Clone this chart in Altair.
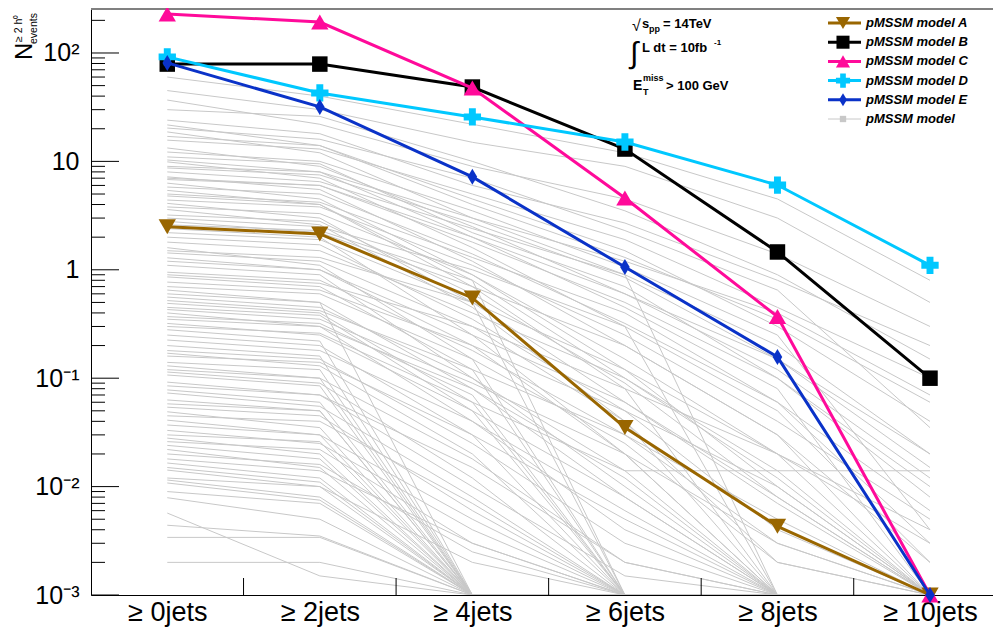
import altair as alt
import pandas as pd

# ---------------- data ----------------
categories = ["≥ 0jets", "≥ 2jets", "≥ 4jets", "≥ 6jets", "≥ 8jets", "≥ 10jets"]

model_labels = ["pMSSM model A", "pMSSM model B", "pMSSM model C",
                "pMSSM model D", "pMSSM model E"]
model_a = [2.5, 2.14, 0.55, 0.035, 0.0043, 0.001]
model_b = [79, 79, 48.5, 13, 1.46, 0.1]
model_c = [229, 193, 47.5, 4.6, 0.37, 0.001]
model_d = [92, 42.8, 25.7, 15.1, 6.05, 1.1]
model_e = [81, 31.8, 7.2, 1.06, 0.157, 0.001]

# background pMSSM models (one entry per model in each jet bin; 0.001 = axis floor)
grey_0jets = [60, 45, 36.8, 24, 21.7, 20.3, 18.7, 15.7, 13.3, 12.2,
              10.3, 9.9, 8.7, 7.2, 7.0, 6.3, 5.8, 5.4, 4.4, 4.1,
              3.8, 3.6, 2.0, 1.8, 1.6, 1.43, 1.29, 0.95, 0.86, 0.77,
              0.65, 0.56, 0.49, 0.43, 0.40, 0.37, 0.32, 0.30, 0.25, 0.225,
              0.20, 0.18, 0.17, 0.14, 0.13, 0.114, 0.107, 0.092, 0.078, 0.073,
              0.063, 0.054, 0.049, 0.041, 0.037, 0.033, 0.028, 0.026, 0.024, 0.022,
              0.020, 0.0165, 0.015, 0.0142, 0.0115, 0.0108, 0.0079, 0.0057, 0.0044, 0.0034, 0.002,
              30, 17, 11, 9.0, 6.8, 5.0, 4.8, 3.2, 2.8, 2.4,
              2.2, 1.2, 1.1, 0.9, 0.7, 0.6, 0.52, 0.45, 0.35, 0.28,
              0.16, 0.12, 0.085, 0.058, 0.045, 0.03, 0.018, 0.012, 0.009, 1.5,
              2.6, 3.0, 8.0]
grey_2jets = [40, 30, 22, 18, 14, 16, 12, 13, 9, 10,
              8, 7, 7.5, 5.5, 6, 4.5, 5, 4, 3.8, 3,
              3.3, 2.6, 1.7, 1.5, 1.1, 1.2, 1.0, 0.8, 0.7, 0.65,
              0.5, 0.45, 0.4, 0.35, 0.3, 0.32, 0.25, 0.26, 0.2, 0.18,
              0.16, 0.15, 0.13, 0.12, 0.1, 0.09, 0.085, 0.07, 0.06, 0.055,
              0.05, 0.045, 0.035, 0.03, 0.03, 0.025, 0.02, 0.022, 0.018, 0.015,
              0.016, 0.012, 0.011, 0.01, 0.008, 0.0075, 0.005, 0.0015, 0.0035, 0.0034, 0.002,
              26, 14, 9.5, 8, 6, 4.2, 4, 2.8, 2.2, 2.0,
              1.9, 1.0, 0.9, 0.75, 0.6, 0.5, 0.42, 0.38, 0.3, 0.22,
              0.14, 0.1, 0.07, 0.05, 0.04, 0.026, 0.014, 0.01, 0.007, 1.3,
              2.3, 2.5, 6.5]
grey_4jets = [22, 15, 9, 6, 4, 7, 3, 5, 2.5, 3.5,
              2, 1.6, 2.7, 1.2, 1.8, 0.9, 1.4, 0.7, 1.1, 0.5,
              0.9, 0.45, 0.35, 0.4, 0.15, 0.3, 0.2, 0.18, 0.12, 0.2,
              0.08, 0.1, 0.06, 0.09, 0.04, 0.07, 0.05, 0.06, 0.03, 0.04,
              0.001, 0.025, 0.02, 0.001, 0.018, 0.012, 0.001, 0.01, 0.001, 0.008,
              0.001, 0.006, 0.001, 0.005, 0.001, 0.004, 0.001, 0.003, 0.001, 0.001,
              0.0025, 0.001, 0.001, 0.002, 0.001, 0.001, 0.001, 0.001, 0.001, 0.001, 0.001,
              10, 4.5, 2.2, 3, 2, 1.3, 0.8, 0.6, 0.7, 0.25,
              0.5, 0.25, 0.1, 0.3, 0.15, 0.001, 0.12, 0.05, 0.08, 0.001,
              0.03, 0.001, 0.015, 0.001, 0.007, 0.001, 0.003, 0.001, 0.001, 0.5,
              0.8, 1.0, 2.4]
grey_6jets = [12, 9, 4.5, 2.7, 1.3, 2.3, 0.9, 1.9, 0.6, 1.06,
              0.45, 0.3, 0.85, 0.2, 0.5, 0.12, 0.32, 0.08, 0.25, 0.06,
              0.15, 0.04, 0.05, 0.1, 0.001, 0.04, 0.02, 0.03, 0.001, 0.05,
              0.008, 0.014, 0.001, 0.02, 0.004, 0.001, 0.008, 0.014, 0.001, 0.006,
              0.001, 0.003, 0.001, 0.001, 0.002, 0.001, 0.001, 0.0015, 0.001, 0.001,
              0.001, 0.001, 0.001, 0.001, 0.001, 0.001, 0.001, 0.001, 0.001, 0.001,
              0.001, 0.001, 0.001, 0.001, 0.001, 0.001, 0.001, 0.001, 0.001, 0.001, 0.001,
              3.5, 1.5, 0.7, 1.2, 0.6, 0.4, 0.1, 0.09, 0.2, 0.02,
              0.12, 0.06, 0.01, 0.08, 0.025, 0.001, 0.03, 0.001, 0.012, 0.001,
              0.005, 0.001, 0.002, 0.001, 0.001, 0.001, 0.001, 0.001, 0.001, 0.001,
              0.001, 0.3, 0.9]
grey_8jets = [4.5, 3, 1.4, 0.8, 0.35, 0.65, 0.2, 0.45, 0.12, 0.25,
              0.08, 0.05, 0.15, 0.03, 0.1, 0.01, 0.06, 0.001, 0.04, 0.007,
              0.02, 0.001, 0.004, 0.014, 0.001, 0.002, 0.001, 0.003, 0.001, 0.01,
              0.001, 0.001, 0.001, 0.003, 0.001, 0.001, 0.001, 0.014, 0.001, 0.001,
              0.001, 0.001, 0.001, 0.001, 0.001, 0.001, 0.001, 0.001, 0.001, 0.001,
              0.001, 0.001, 0.001, 0.001, 0.001, 0.001, 0.001, 0.001, 0.001, 0.001,
              0.001, 0.001, 0.001, 0.001, 0.001, 0.001, 0.001, 0.001, 0.001, 0.001, 0.001,
              0.9, 0.3, 0.1, 0.4, 0.15, 0.06, 0.012, 0.008, 0.03, 0.001,
              0.02, 0.008, 0.001, 0.02, 0.002, 0.001, 0.005, 0.001, 0.001, 0.001,
              0.001, 0.001, 0.001, 0.001, 0.001, 0.001, 0.001, 0.001, 0.001, 0.001,
              0.001, 0.001, 0.001]
grey_10jets = [0.8, 0.5, 0.3, 0.2, 0.06, 0.035, 0.02, 0.1, 0.012, 0.004,
               0.001, 0.002, 0.02, 0.001, 0.008, 0.001, 0.003, 0.001, 0.005, 0.001,
               0.001, 0.001, 0.001, 0.001, 0.001, 0.001, 0.001, 0.001, 0.001, 0.001,
               0.001, 0.001, 0.001, 0.001, 0.001, 0.001, 0.001, 0.014, 0.001, 0.001,
               0.001, 0.001, 0.001, 0.001, 0.001, 0.001, 0.001, 0.001, 0.001, 0.001,
               0.001, 0.001, 0.001, 0.001, 0.001, 0.001, 0.001, 0.001, 0.001, 0.001,
               0.001, 0.001, 0.001, 0.001, 0.001, 0.001, 0.001, 0.001, 0.001, 0.001, 0.001,
               0.15, 0.04, 0.01, 0.07, 0.015, 0.006, 0.001, 0.001, 0.002, 0.001,
               0.003, 0.001, 0.001, 0.004, 0.001, 0.001, 0.001, 0.001, 0.001, 0.001,
               0.001, 0.001, 0.001, 0.001, 0.001, 0.001, 0.001, 0.001, 0.001, 0.001,
               0.001, 0.001, 0.001]

y_major_ticks = [0.001, 0.01, 0.1, 1, 10, 100]
y_tick_labels = ["10⁻³", "10⁻²", "10⁻¹", "1", "10", "10²"]
minor_factors = [2, 3, 4, 5, 6, 7, 8, 9]
bin_edges = [0.5, 1.5, 2.5, 3.5, 4.5]

# ---------------- styling ----------------
FONT = "Liberation Sans"
W, H = 902, 587
X_DOMAIN = [-0.5, 5.413]
Y_DOMAIN = [0.001, 260]
GREY = "#c8c8c8"
model_colors = ["#996600", "#000000", "#ff0a9a", "#00c8ff", "#0a32c8"]
DIAMOND = "M0,-1L0.6,0L0,1L-0.6,0Z"
model_shapes = ["triangle-down", "square", "triangle-up", "cross", DIAMOND]
model_sizes = [300, 240, 300, 300, 256]

xscale = alt.Scale(domain=X_DOMAIN, nice=False, zero=False)
yscale = alt.Scale(type="log", domain=Y_DOMAIN, nice=False)

# ---------------- background lines ----------------
grey_cols = [grey_0jets, grey_2jets, grey_4jets, grey_6jets, grey_8jets, grey_10jets]
n_grey = min(len(c) for c in grey_cols)
rows = []
for i in range(n_grey):
    for j, col in enumerate(grey_cols):
        rows.append({"model": i, "idx": j, "value": col[i]})
grey_df = pd.DataFrame(rows)

label_js = "[" + ",".join("'" + c + "'" for c in categories) + "]"
ylab_js = "[" + ",".join("'" + c + "'" for c in y_tick_labels) + "]"

grey = alt.Chart(grey_df).mark_line(color=GREY, strokeWidth=1, clip=True).encode(
    x=alt.X("idx:Q", scale=xscale,
            axis=alt.Axis(values=list(range(len(categories))),
                          labelExpr=label_js + "[datum.value]",
                          ticks=False, grid=False, title=None,
                          domainColor="black", domainWidth=1,
                          labelFontSize=27, labelPadding=4,
                          labelColor="black", labelFont=FONT)),
    y=alt.Y("value:Q", scale=yscale,
            axis=alt.Axis(values=y_major_ticks,
                          labelExpr=ylab_js + "[round(log(datum.value)/LN10)+3]",
                          ticks=False, grid=False, title=None,
                          domainColor="black", domainWidth=1,
                          labelFontSize=25, labelPadding=12,
                          labelColor="black", labelFont=FONT)),
    detail="model:N",
    order="idx:Q",
)

# ---------------- inward ticks ----------------
minor_vals = [m * f for m in y_major_ticks for f in minor_factors if m * f <= Y_DOMAIN[1]]
major_tick = alt.Chart(pd.DataFrame({"v": y_major_ticks})).mark_rule(color="black", strokeWidth=1).encode(
    y=alt.Y("v:Q", scale=yscale), x=alt.value(0), x2=alt.value(28))
minor_tick = alt.Chart(pd.DataFrame({"v": minor_vals})).mark_rule(color="black", strokeWidth=1).encode(
    y=alt.Y("v:Q", scale=yscale), x=alt.value(0), x2=alt.value(14))
x_tick = alt.Chart(pd.DataFrame({"b": bin_edges})).mark_rule(color="black", strokeWidth=1).encode(
    x=alt.X("b:Q", scale=xscale), y=alt.value(H), y2=alt.value(H - 17))
top_line = alt.Chart(pd.DataFrame({"a": [0]})).mark_rule(color="#808080", strokeWidth=2).encode(
    x=alt.value(0), x2=alt.value(W), y=alt.value(1))

# ---------------- highlighted models ----------------
models = [model_a, model_b, model_c, model_d, model_e]
hl_layers = []
for name, vals, col, shp, sz in zip(model_labels, models, model_colors, model_shapes, model_sizes):
    df = pd.DataFrame({"idx": list(range(len(vals))), "value": vals, "model": name})
    base = alt.Chart(df).encode(x=alt.X("idx:Q", scale=xscale), y=alt.Y("value:Q", scale=yscale))
    hl_layers.append(base.mark_line(color=col, strokeWidth=3))
    hl_layers.append(base.mark_point(color=col, fill=col, filled=True, shape=shp, size=sz,
                                     opacity=1, clip=False))

# ---------------- legend ----------------
legend_labels = model_labels + ["pMSSM model"]
legend_df = pd.DataFrame({
    "label": legend_labels,
    "color": model_colors + [GREY],
    "shape": model_shapes + ["square"],
    "msize": [200, 170, 200, 200, 170, 40],
    "sw": [3, 3, 3, 3, 3, 1],
    "row": list(range(len(legend_labels))),
})
LEG_TOP, LEG_DY = 15, 19.2
leg_base = alt.Chart(legend_df).transform_calculate(
    ypix=f"{LEG_TOP} + datum.row * {LEG_DY}")
leg_line = leg_base.mark_rule().encode(
    x=alt.value(737), x2=alt.value(770), y=alt.Y("ypix:Q", scale=None),
    color=alt.Color("color:N", scale=None, legend=None),
    strokeWidth=alt.StrokeWidth("sw:Q", scale=None, legend=None))
leg_pt = leg_base.mark_point(filled=True, opacity=1).encode(
    x=alt.value(752), y=alt.Y("ypix:Q", scale=None),
    color=alt.Color("color:N", scale=None, legend=None),
    shape=alt.Shape("shape:N", scale=None, legend=None),
    size=alt.Size("msize:Q", scale=None, legend=None))
leg_txt = leg_base.mark_text(align="left", baseline="middle", font=FONT, fontSize=13,
                             fontStyle="italic", fontWeight="bold", color="black").encode(
    x=alt.value(775), y=alt.Y("ypix:Q", scale=None), text="label:N")

# ---------------- annotation texts ----------------
def txt(s, x, y, size=13, weight="bold", angle=0, align="left", baseline="alphabetic", style="normal"):
    return alt.Chart(pd.DataFrame({"a": [0]})).mark_text(
        text=s, font=FONT, fontSize=size, fontWeight=weight, angle=angle, align=align,
        baseline=baseline, fontStyle=style, color="black").encode(x=alt.value(x), y=alt.value(y))

OX, OY = 91, 8  # plot origin on the page
ann = [
    txt("√", 632 - OX, 31 - OY, size=16, weight="normal"),
    txt("s", 642 - OX, 28 - OY),
    txt("pp", 649 - OX, 32 - OY, size=9),
    txt("= 14TeV", 663 - OX, 28 - OY),
    txt("∫", 630 - OX, 63 - OY, size=30, weight="normal"),
    txt("L dt = 10fb", 642 - OX, 52 - OY),
    txt("-1", 714 - OX, 45 - OY, size=8),
    txt("E", 633 - OX, 90 - OY, size=14),
    txt("miss", 643 - OX, 81 - OY, size=9),
    txt("T", 643 - OX, 95 - OY, size=9),
    txt("> 100 GeV", 666 - OX, 90 - OY),
    # y-axis title, rotated
    txt("N", 32 - OX, 60 - OY, size=24, weight="normal", angle=270),
    txt("≥ 2 h⁰", 22 - OX, 42 - OY, size=10.5, weight="normal", angle=270),
    txt("events", 37 - OX, 44 - OY, size=10.5, weight="normal", angle=270),
]

layers = [grey, major_tick, minor_tick, x_tick, top_line] + hl_layers + \
         [leg_line, leg_pt, leg_txt] + ann

chart = alt.layer(*layers).properties(
    width=W, height=H,
    autosize=alt.AutoSizeParams(type="none"),
    padding={"left": OX - 8, "top": 0, "right": 0, "bottom": 34},
    background="white",
).configure_view(stroke=None)

chart.save("out.html", embed_options={"renderer": "svg", "actions": False})
